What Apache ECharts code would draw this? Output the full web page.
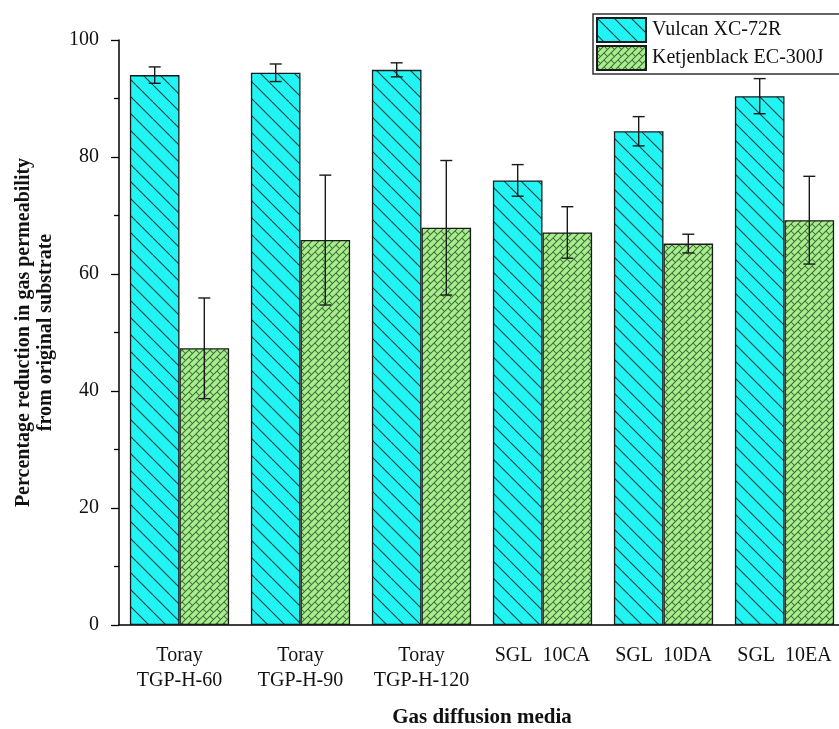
<!DOCTYPE html>
<html>
<head>
<meta charset="utf-8">
<script src="https://cdn.jsdelivr.net/npm/echarts@6/dist/echarts.min.js"></script>
<style>html,body{margin:0;padding:0;background:#fff;overflow:hidden}#c{width:839px;height:729px}</style>
</head>
<body>
<div id="c"></div>
<script>
// ---- data ----
const categories = ['Toray\nTGP-H-60', 'Toray\nTGP-H-90', 'Toray\nTGP-H-120', 'SGL  10CA', 'SGL  10DA', 'SGL  10EA'];
const seriesNames = ['Vulcan XC-72R', 'Ketjenblack EC-300J'];
const vulcan = [94.0, 94.4, 94.9, 76.0, 84.4, 90.4];
const vulcanErr = [1.4, 1.5, 1.2, 2.7, 2.5, 3.0];
const ketjen = [47.3, 65.8, 67.9, 67.1, 65.2, 69.2];
const ketjenErr = [8.6, 11.1, 11.5, 4.4, 1.6, 7.5];
const yTicks = [0, 20, 40, 60, 80, 100];

// ---- patterns ----
function cyanPattern() {
  const s = 17, c = document.createElement('canvas');
  c.width = s; c.height = s;
  const g = c.getContext('2d');
  g.fillStyle = '#22F4F4'; g.fillRect(0, 0, s, s);
  g.strokeStyle = '#0d3f40'; g.lineWidth = 1.1;
  for (const o of [-s, 0, s]) {
    g.beginPath(); g.moveTo(o, 0); g.lineTo(o + s, s); g.stroke();
  }
  return c;
}
function greenPattern() {
  const s = 14, c = document.createElement('canvas');
  c.width = s; c.height = s;
  const g = c.getContext('2d');
  g.fillStyle = '#A8EE8C'; g.fillRect(0, 0, s, s);
  g.strokeStyle = '#3d6a3a'; g.lineWidth = 1;
  g.save();
  g.rotate(-Math.PI / 4);
  const h = 7 / Math.SQRT2, L = 2 * h;
  for (let k = -6; k <= 10; k++) {
    const v = k * h;
    g.beginPath(); g.moveTo(-40, v); g.lineTo(40, v); g.stroke();
    for (let j = -8; j <= 8; j++) {
      const u = j * L + ((k % 2 !== 0) ? L / 2 : 0);
      g.beginPath(); g.moveTo(u, v); g.lineTo(u, v + h); g.stroke();
    }
  }
  g.restore();
  return c;
}
const cyanFill = { image: cyanPattern(), repeat: 'repeat' };
const greenFill = { image: greenPattern(), repeat: 'repeat' };

const FONT = 'Liberation Serif';
const BARW = 0.41;

function errItem(side) {
  return function (params, api) {
    const idx = api.value(0);
    const lo = api.value(1), hi = api.value(2);
    const band = api.size([1, 0])[0];
    const bw = band * BARW;
    const cx = api.coord([idx, 0])[0] + side * bw / 2;
    const yLo = api.coord([idx, lo])[1];
    const yHi = api.coord([idx, hi])[1];
    const cap = 6;
    const st = { stroke: '#1a1a1a', lineWidth: 1.4 };
    return {
      type: 'group',
      children: [
        { type: 'line', shape: { x1: cx, y1: yLo, x2: cx, y2: yHi }, style: st },
        { type: 'line', shape: { x1: cx - cap, y1: yHi, x2: cx + cap, y2: yHi }, style: st },
        { type: 'line', shape: { x1: cx - cap, y1: yLo, x2: cx + cap, y2: yLo }, style: st }
      ]
    };
  };
}

const chart = echarts.init(document.getElementById('c'));
chart.setOption({
  animation: false,
  backgroundColor: '#fff',
  textStyle: { fontFamily: FONT },
  legend: {
    orient: 'vertical',
    left: 593, top: 14,
    padding: [3, 30, 3, 3],
    itemGap: 2,
    itemWidth: 49, itemHeight: 24,
    borderColor: '#333', borderWidth: 1.5,
    icon: 'rect',
    textStyle: { fontFamily: FONT, fontSize: 20, color: '#111', padding: [0, 0, 0, 1] },
    data: seriesNames
  },
  grid: { left: 119, top: 40, right: -6, bottom: 104, containLabel: false, outerBoundsMode: 'none' },
  xAxis: [{
    type: 'category',
    data: categories,
    axisLine: { lineStyle: { color: '#000', width: 1.5 } },
    axisTick: { alignWithLabel: true, length: 8, lineStyle: { color: '#000', width: 1.3 } },
    axisLabel: { fontFamily: FONT, fontSize: 20, color: '#111', margin: 18, lineHeight: 25, interval: 0 },
    name: 'Gas diffusion media',
    nameLocation: 'middle',
    nameGap: 82,
    nameTextStyle: { fontFamily: FONT, fontSize: 21, fontWeight: 'bold', color: '#111' }
  }, {
    type: 'category',
    data: categories,
    position: 'bottom',
    axisLine: { show: false },
    axisTick: { length: 5, lineStyle: { color: '#000', width: 1.3 } },
    axisLabel: { show: false }
  }],
  yAxis: {
    type: 'value',
    min: yTicks[0], max: yTicks[yTicks.length - 1], interval: 20,
    axisLine: { show: true, lineStyle: { color: '#000', width: 1.5 } },
    axisTick: { show: true, length: 8, lineStyle: { color: '#000', width: 1.3 } },
    minorTick: { show: true, splitNumber: 2, length: 5, lineStyle: { color: '#000', width: 1.3 } },
    splitLine: { show: false },
    axisLabel: { fontFamily: FONT, fontSize: 20, color: '#111', margin: 20 },
    name: 'Percentage reduction in gas permeability\nfrom original substrate',
    nameLocation: 'middle',
    nameGap: 62,
    nameTextStyle: { fontFamily: FONT, fontSize: 20, fontWeight: 'bold', color: '#111', lineHeight: 22 }
  },
  series: [{
    name: seriesNames[0], type: 'bar', data: vulcan,
    barWidth: (BARW * 100) + '%', barGap: '0%',
    itemStyle: { color: cyanFill, borderColor: '#1a1a1a', borderWidth: 1.3 }
  }, {
    name: seriesNames[1], type: 'bar', data: ketjen,
    barWidth: (BARW * 100) + '%', barGap: '0%',
    itemStyle: { color: greenFill, borderColor: '#1a1a1a', borderWidth: 1.3 }
  }, {
    type: 'custom', renderItem: errItem(-1), z: 5,
    data: vulcan.map((v, i) => [i, v - vulcanErr[i], v + vulcanErr[i]])
  }, {
    type: 'custom', renderItem: errItem(1), z: 5,
    data: ketjen.map((v, i) => [i, v - ketjenErr[i], v + ketjenErr[i]])
  }]
});
</script>
</body>
</html>
